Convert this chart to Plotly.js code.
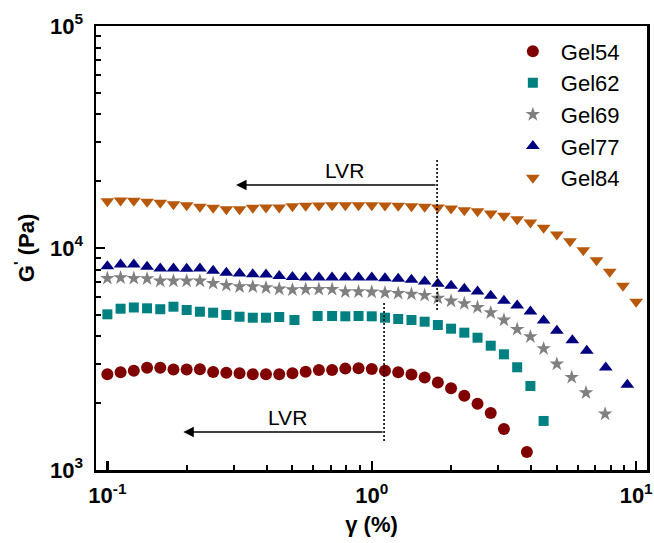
<!DOCTYPE html>
<html>
<head>
<meta charset="utf-8">
<script src="https://cdn.plot.ly/plotly-3.0.1.min.js"></script>
<style>html,body{margin:0;padding:0;background:#fff;}#chart{width:654px;height:543px;}</style>
</head>
<body>
<div id="chart"></div>
<script>
// ---- data (strain γ in %, storage modulus G' in Pa) ----
const seriesNames = ["Gel54", "Gel62", "Gel69", "Gel77", "Gel84"];

const gel54X = [0.1,0.1122,0.1259,0.1413,0.1585,0.1778,0.1995,0.2239,0.2512,0.2818,0.3162,0.3548,0.3981,0.4467,0.5012,0.5623,0.631,0.7079,0.7943,0.8913,1,1.122,1.259,1.413,1.585,1.778,1.995,2.239,2.512,2.818,3.162,3.86];
const gel54Y = [2701,2758,2802,2887,2887,2834,2834,2842,2764,2741,2727,2701,2701,2698,2727,2772,2821,2821,2862,2871,2851,2798,2755,2693,2610,2478,2333,2161,1989,1806,1530,1205];

const gel62X = [0.1,0.1122,0.1259,0.1413,0.1585,0.1778,0.1995,0.2239,0.2512,0.2818,0.3162,0.3548,0.3981,0.4467,0.51,0.624,0.7079,0.7943,0.8913,1,1.122,1.259,1.413,1.585,1.778,1.995,2.239,2.512,2.818,3.162,3.548,3.981,4.467];
const gel62Y = [5027,5328,5395,5350,5300,5440,5256,5165,5112,4990,4903,4853,4853,4889,4740,4940,4940,4924,4940,4924,4853,4788,4740,4656,4500,4331,4155,3944,3630,3320,2902,2390,1663];

const gel69X = [0.1,0.1122,0.1259,0.1413,0.1585,0.1778,0.1995,0.2239,0.2512,0.2818,0.3162,0.3548,0.3981,0.4467,0.5012,0.5623,0.631,0.7079,0.7943,0.8913,1,1.122,1.259,1.413,1.585,1.778,1.995,2.239,2.512,2.818,3.162,3.548,3.981,4.467,5.012,5.706,6.46,7.63];
const gel69Y = [7304,7349,7304,7274,7102,7102,7102,7102,6934,6792,6694,6694,6625,6536,6489,6516,6516,6516,6356,6356,6336,6289,6250,6205,6122,5953,5771,5623,5406,5112,4740,4304,3986,3520,3003,2615,2229,1788];

const gel77X = [0.1,0.1122,0.1259,0.1413,0.1585,0.1778,0.1995,0.2239,0.2512,0.2818,0.3162,0.3548,0.3981,0.4467,0.5012,0.5623,0.631,0.7079,0.7943,0.8913,1,1.122,1.259,1.413,1.585,1.778,1.995,2.239,2.512,2.818,3.162,3.548,3.981,4.467,5.012,5.737,6.505,7.674,9.26];
const gel77Y = [8279,8427,8427,8228,8085,8085,8059,8085,7893,7731,7675,7620,7595,7479,7402,7363,7363,7363,7363,7363,7363,7311,7265,7190,7064,6898,6756,6549,6369,6091,5782,5508,5176,4715,4236,3843,3443,2896,2420];

const gel84X = [0.1,0.1122,0.1259,0.1413,0.1585,0.1778,0.1995,0.2239,0.2512,0.2818,0.3162,0.3548,0.3981,0.4467,0.5012,0.5623,0.631,0.7079,0.7943,0.8913,1,1.122,1.259,1.413,1.585,1.778,1.995,2.239,2.512,2.818,3.162,3.548,3.981,4.467,5.012,5.623,6.31,7.079,7.943,8.913,10];
const gel84Y = [16250,16370,16320,16150,15980,15750,15590,15330,15170,14960,14960,15170,15220,15220,15430,15490,15540,15590,15590,15590,15590,15540,15490,15430,15330,15220,15060,14800,14650,14300,13960,13480,13030,12330,11500,10730,9775,8810,7812,6756,5722];

// tick labels
const xTickVals = [0.1, 1, 10];
const xTickText = ["10<sup>-1</sup>", "10<sup>0</sup>", "10<sup>1</sup>"];
const yTickVals = [1000, 10000, 100000];
const yTickText = ["10<sup>3</sup>", "10<sup>4</sup>", "10<sup>5</sup>"];
const xMinorVals = [0.2,0.3,0.4,0.5,0.6,0.7,0.8,0.9,2,3,4,5,6,7,8,9];
const yMinorVals = [2000,3000,4000,5000,6000,7000,8000,9000,20000,30000,40000,50000,60000,70000,80000,90000];

// LVR markers
const lvrUpper = {limit: 1.766, tip: 0.3068, level: 19220, top: 24910, bottom: 5257, labelX: 0.7855, labelY: 22230};
const lvrLower = {limit: 1.113, tip: 0.1938, level: 1483, top: 5652, bottom: 1351, labelX: 0.478, labelY: 1715};

// ---- styling ----
const FONT = "Arial, 'Liberation Sans', sans-serif";
const styles = {
  Gel54: {symbol: "circle", size: 12, color: "#800000"},
  Gel62: {symbol: "square", size: 10, color: "#008080"},
  Gel69: {symbol: "star", size: 11, color: "#808080"},
  Gel77: {symbol: "triangle-up", size: 12, color: "#000080"},
  Gel84: {symbol: "triangle-down", size: 12, color: "#B8580A"}
};
const xs = [gel54X, gel62X, gel69X, gel77X, gel84X];
const ys = [gel54Y, gel62Y, gel69Y, gel77Y, gel84Y];

const traces = seriesNames.map((n, i) => ({
  type: "scatter", mode: "markers", name: n, x: xs[i], y: ys[i],
  marker: {symbol: styles[n].symbol, size: styles[n].size, color: styles[n].color, line: {width: 0}}
}));

[lvrUpper, lvrLower].forEach(l => {
  traces.push({type: "scatter", mode: "lines", x: [l.limit, l.limit], y: [l.top, l.bottom],
    line: {color: "black", width: 1.6, dash: "2px,2px"}, showlegend: false, hoverinfo: "skip"});
});

const annotations = [];
[lvrUpper, lvrLower].forEach(l => {
  annotations.push({x: Math.log10(l.tip), y: Math.log10(l.level), ax: Math.log10(l.limit), ay: Math.log10(l.level),
    xref: "x", yref: "y", axref: "x", ayref: "y", showarrow: true, arrowhead: 2, arrowsize: 1.4, arrowwidth: 1.5,
    arrowcolor: "black", standoff: 0, startstandoff: 0, text: ""});
  annotations.push({x: Math.log10(l.labelX), y: Math.log10(l.labelY), xref: "x", yref: "y", showarrow: false,
    text: "LVR", font: {family: FONT, size: 21, color: "black"}});
});

const axisCommon = {
  type: "log", showline: true, mirror: true, linewidth: 2.5, linecolor: "black",
  ticks: "inside", ticklen: 9, tickwidth: 2.5, tickcolor: "black",
  showgrid: false, zeroline: false, tickmode: "array",
  tickfont: {family: FONT, size: 22, color: "black", weight: "bold"}
};

const layout = {
  width: 654, height: 543,
  margin: {l: 96, r: 7, t: 26, b: 73},
  paper_bgcolor: "white", plot_bgcolor: "white",
  showlegend: true,
  legend: {x: 0.742, y: 0.99, xanchor: "left", yanchor: "top", bgcolor: "rgba(0,0,0,0)",
    font: {family: FONT, size: 22, color: "black"}, itemwidth: 46, tracegroupgap: 0},
  xaxis: Object.assign({}, axisCommon, {
    range: [-1.043, 1.041], tickvals: xTickVals, ticktext: xTickText, ticklabelstandoff: 4,
    minor: {tickmode: "array", tickvals: xMinorVals, ticks: "inside", ticklen: 5, tickwidth: 2, tickcolor: "black", showgrid: false},
    title: {text: "γ (%)", font: {family: FONT, size: 22, color: "black", weight: "bold"}, standoff: 10}
  }),
  yaxis: Object.assign({}, axisCommon, {
    range: [3, 5], tickvals: yTickVals, ticktext: yTickText, ticklabelstandoff: 6,
    minor: {tickmode: "array", tickvals: yMinorVals, ticks: "inside", ticklen: 5, tickwidth: 2, tickcolor: "black", showgrid: false},
    title: {text: "G<sup>'</sup> (Pa)", font: {family: FONT, size: 22, color: "black", weight: "bold"}, standoff: 10}
  }),
  annotations: annotations
};

Plotly.newPlot("chart", traces, layout, {staticPlot: true, displayModeBar: false});
</script>
</body>
</html>
